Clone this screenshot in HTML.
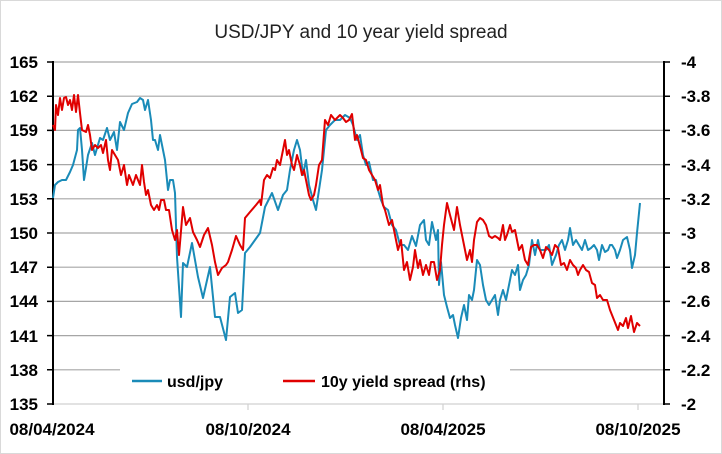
<!DOCTYPE html><html><head><meta charset="utf-8"><style>body{margin:0;background:#fff}svg{display:block}text{font-family:"Liberation Sans",sans-serif}</style></head><body>
<svg width="722" height="454" viewBox="0 0 722 454" xmlns="http://www.w3.org/2000/svg">
<rect x="0.5" y="0.5" width="721" height="453" fill="#fff" stroke="#d9d9d9"/>
<text x="361" y="38" font-size="19" text-anchor="middle" fill="#222">USD/JPY and 10 year yield spread</text>
<g stroke="#a6a6a6" stroke-width="1.2">
<line x1="53" x2="664" y1="62" y2="62"/><line x1="53" x2="664" y1="96.2" y2="96.2"/><line x1="53" x2="664" y1="130.4" y2="130.4"/><line x1="53" x2="664" y1="164.6" y2="164.6"/><line x1="53" x2="664" y1="198.8" y2="198.8"/><line x1="53" x2="664" y1="233" y2="233"/><line x1="53" x2="664" y1="267.2" y2="267.2"/><line x1="53" x2="664" y1="301.4" y2="301.4"/><line x1="53" x2="664" y1="335.6" y2="335.6"/><line x1="53" x2="664" y1="369.8" y2="369.8"/>
<line x1="53" x2="664" y1="404" y2="404" stroke="#d0d0d0"/>
<line x1="248" x2="248" y1="404" y2="410" stroke="#d0d0d0"/><line x1="443" x2="443" y1="404" y2="410" stroke="#d0d0d0"/><line x1="638" x2="638" y1="404" y2="410" stroke="#d0d0d0"/>
</g>
<g stroke="#000" stroke-width="2"><line x1="53" x2="53" y1="61" y2="405"/><line x1="664" x2="664" y1="61" y2="405"/></g>
<g stroke="#000" stroke-width="1.5">
<path d="M47 62h6M47 96.2h6M47 130.4h6M47 164.6h6M47 198.8h6M47 233h6M47 267.2h6M47 301.4h6M47 335.6h6M47 369.8h6M47 404h6"/>
<path d="M664 62h6M664 96.2h6M664 130.4h6M664 164.6h6M664 198.8h6M664 233h6M664 267.2h6M664 301.4h6M664 335.6h6M664 369.8h6M664 404h6"/>
</g>
<g font-size="17" font-weight="bold" fill="#000" text-anchor="end">
<text x="38" y="68">165</text><text x="38" y="102">162</text><text x="38" y="136">159</text><text x="38" y="171">156</text><text x="38" y="205">153</text><text x="38" y="239">150</text><text x="38" y="273">147</text><text x="38" y="307">144</text><text x="38" y="342">141</text><text x="38" y="376">138</text><text x="38" y="410">135</text>
</g>
<g font-size="17" font-weight="bold" fill="#000">
<text x="681" y="68">-4</text><text x="681" y="102">-3.8</text><text x="681" y="136">-3.6</text><text x="681" y="171">-3.4</text><text x="681" y="205">-3.2</text><text x="681" y="239">-3</text><text x="681" y="273">-2.8</text><text x="681" y="307">-2.6</text><text x="681" y="342">-2.4</text><text x="681" y="376">-2.2</text><text x="681" y="410">-2</text>
</g>
<g font-size="17" font-weight="bold" fill="#000" text-anchor="middle">
<text x="52" y="435">08/04/2024</text><text x="248" y="435">08/10/2024</text><text x="443" y="435">08/04/2025</text><text x="638" y="435">08/10/2025</text>
</g>
<polyline fill="none" stroke="#1a8bb8" stroke-width="2" stroke-linejoin="round" points="53,198 55,185 58,182 62,180 66,180 70,172 73,165 77,150 78,130 80,128 82,150 84,180 86,168 88,155 92,143 95,155 100,138 103,140 107,128 110,140 114,132 117,150 120,122 124,130 128,113 132,104 137,102 140,98 143,100 145,110 148,100 151,120 153,140 155,140 158,150 160,135 163,150 165,160 168,190 170,180 173,180 175,193 177,257 181,317 183,263 187,267 192,243 198,277 203,298 210,267 215,317 220,317 226,340 230,297 235,293 238,313 242,310 245,253 250,247 255,240 260,233 265,207 272,193 278,210 283,195 287,190 290,170 294,150 297,140 300,150 303,175 306,160 309,185 313,200 316,210 319,190 322,170 326,130 330,125 335,120 340,120 345,115 350,118 353,125 357,140 360,135 363,155 366,165 369,162 373,180 376,180 378,190 381,200 384,207 388,210 392,225 396,230 400,245 404,245 408,250 412,236 416,246 420,225 424,220 426,240 429,245 432,222 436,240 438,230 439,285 441,262 444,295 447,307 450,318 453,315 455,325 458,338 461,318 464,305 467,320 469,295 472,300 474,290 477,260 480,265 483,285 486,300 489,305 492,300 495,295 498,315 500,300 503,290 506,300 509,285 512,270 515,275 518,265 520,290 523,280 526,275 529,265 532,240 535,255 538,240 540,250 543,250 546,250 549,245 552,265 556,255 559,245 562,240 565,250 568,240 570,228 573,245 576,240 579,245 582,250 585,240 588,250 591,248 594,245 597,250 599,260 602,245 605,252 608,250 610,245 612,245 615,250 617,258 620,250 623,240 627,237 630,250 632,268 635,255 637,233 640,203"/>
<polyline fill="none" stroke="#e00000" stroke-width="2" stroke-linejoin="round" points="53,125 55,130 56,105 58,115 60,98 62,110 64,98 66,97 68,105 70,100 72,110 74,95 76,112 78,95 80,113 82,130 86,132 88,125 90,135 92,150 95,145 98,148 101,145 103,153 106,140 108,160 110,170 112,150 115,155 118,160 121,175 124,165 127,185 129,175 131,180 133,185 136,175 138,180 140,185 142,165 144,182 146,195 148,190 151,205 154,210 157,205 159,210 161,200 164,200 166,210 169,210 172,230 175,240 177,230 179,255 183,207 186,225 190,218 193,232 197,240 200,247 204,235 208,228 212,245 215,262 218,275 222,268 226,265 228,262 232,250 236,236 240,245 243,250 245,218 250,212 256,205 260,200 261,205 264,180 267,175 270,178 273,168 275,170 277,160 280,165 283,150 285,140 287,155 289,150 292,165 294,170 297,155 300,165 302,175 304,170 307,185 309,195 311,200 314,195 316,185 319,165 322,160 325,120 328,125 331,115 335,120 340,115 343,118 346,122 349,120 352,114 355,140 357,135 361,150 363,158 366,160 369,170 372,175 375,180 378,190 380,185 383,205 385,210 389,225 392,220 395,235 398,250 401,240 404,270 407,262 410,280 413,267 415,250 418,268 420,260 423,275 426,265 429,275 431,262 434,262 437,280 440,270 442,245 444,225 447,203 450,215 454,230 457,207 460,225 463,240 467,260 470,250 472,262 474,240 477,222 480,218 483,220 486,225 489,236 492,238 495,236 498,238 500,240 503,225 505,240 507,235 510,225 512,232 515,230 519,250 522,245 525,260 528,265 531,247 534,245 537,245 540,250 543,258 546,247 549,250 552,255 555,245 558,248 561,265 564,263 567,270 570,260 573,265 576,268 578,275 580,270 583,265 586,270 589,272 592,283 595,285 597,298 600,295 603,300 607,300 610,310 614,320 616,325 618,330 620,323 623,326 626,318 628,328 631,316 634,332 637,323 640,326"/>
<rect x="120" y="366" width="390" height="28" fill="#fff"/>
<line x1="132" x2="162" y1="381" y2="381" stroke="#1a8bb8" stroke-width="2.5"/>
<text x="167" y="387" font-size="16" font-weight="bold">usd/jpy</text>
<line x1="283" x2="315" y1="381" y2="381" stroke="#e00000" stroke-width="2.5"/>
<text x="321" y="387" font-size="16" font-weight="bold">10y yield spread (rhs)</text>
</svg>
</body></html>
